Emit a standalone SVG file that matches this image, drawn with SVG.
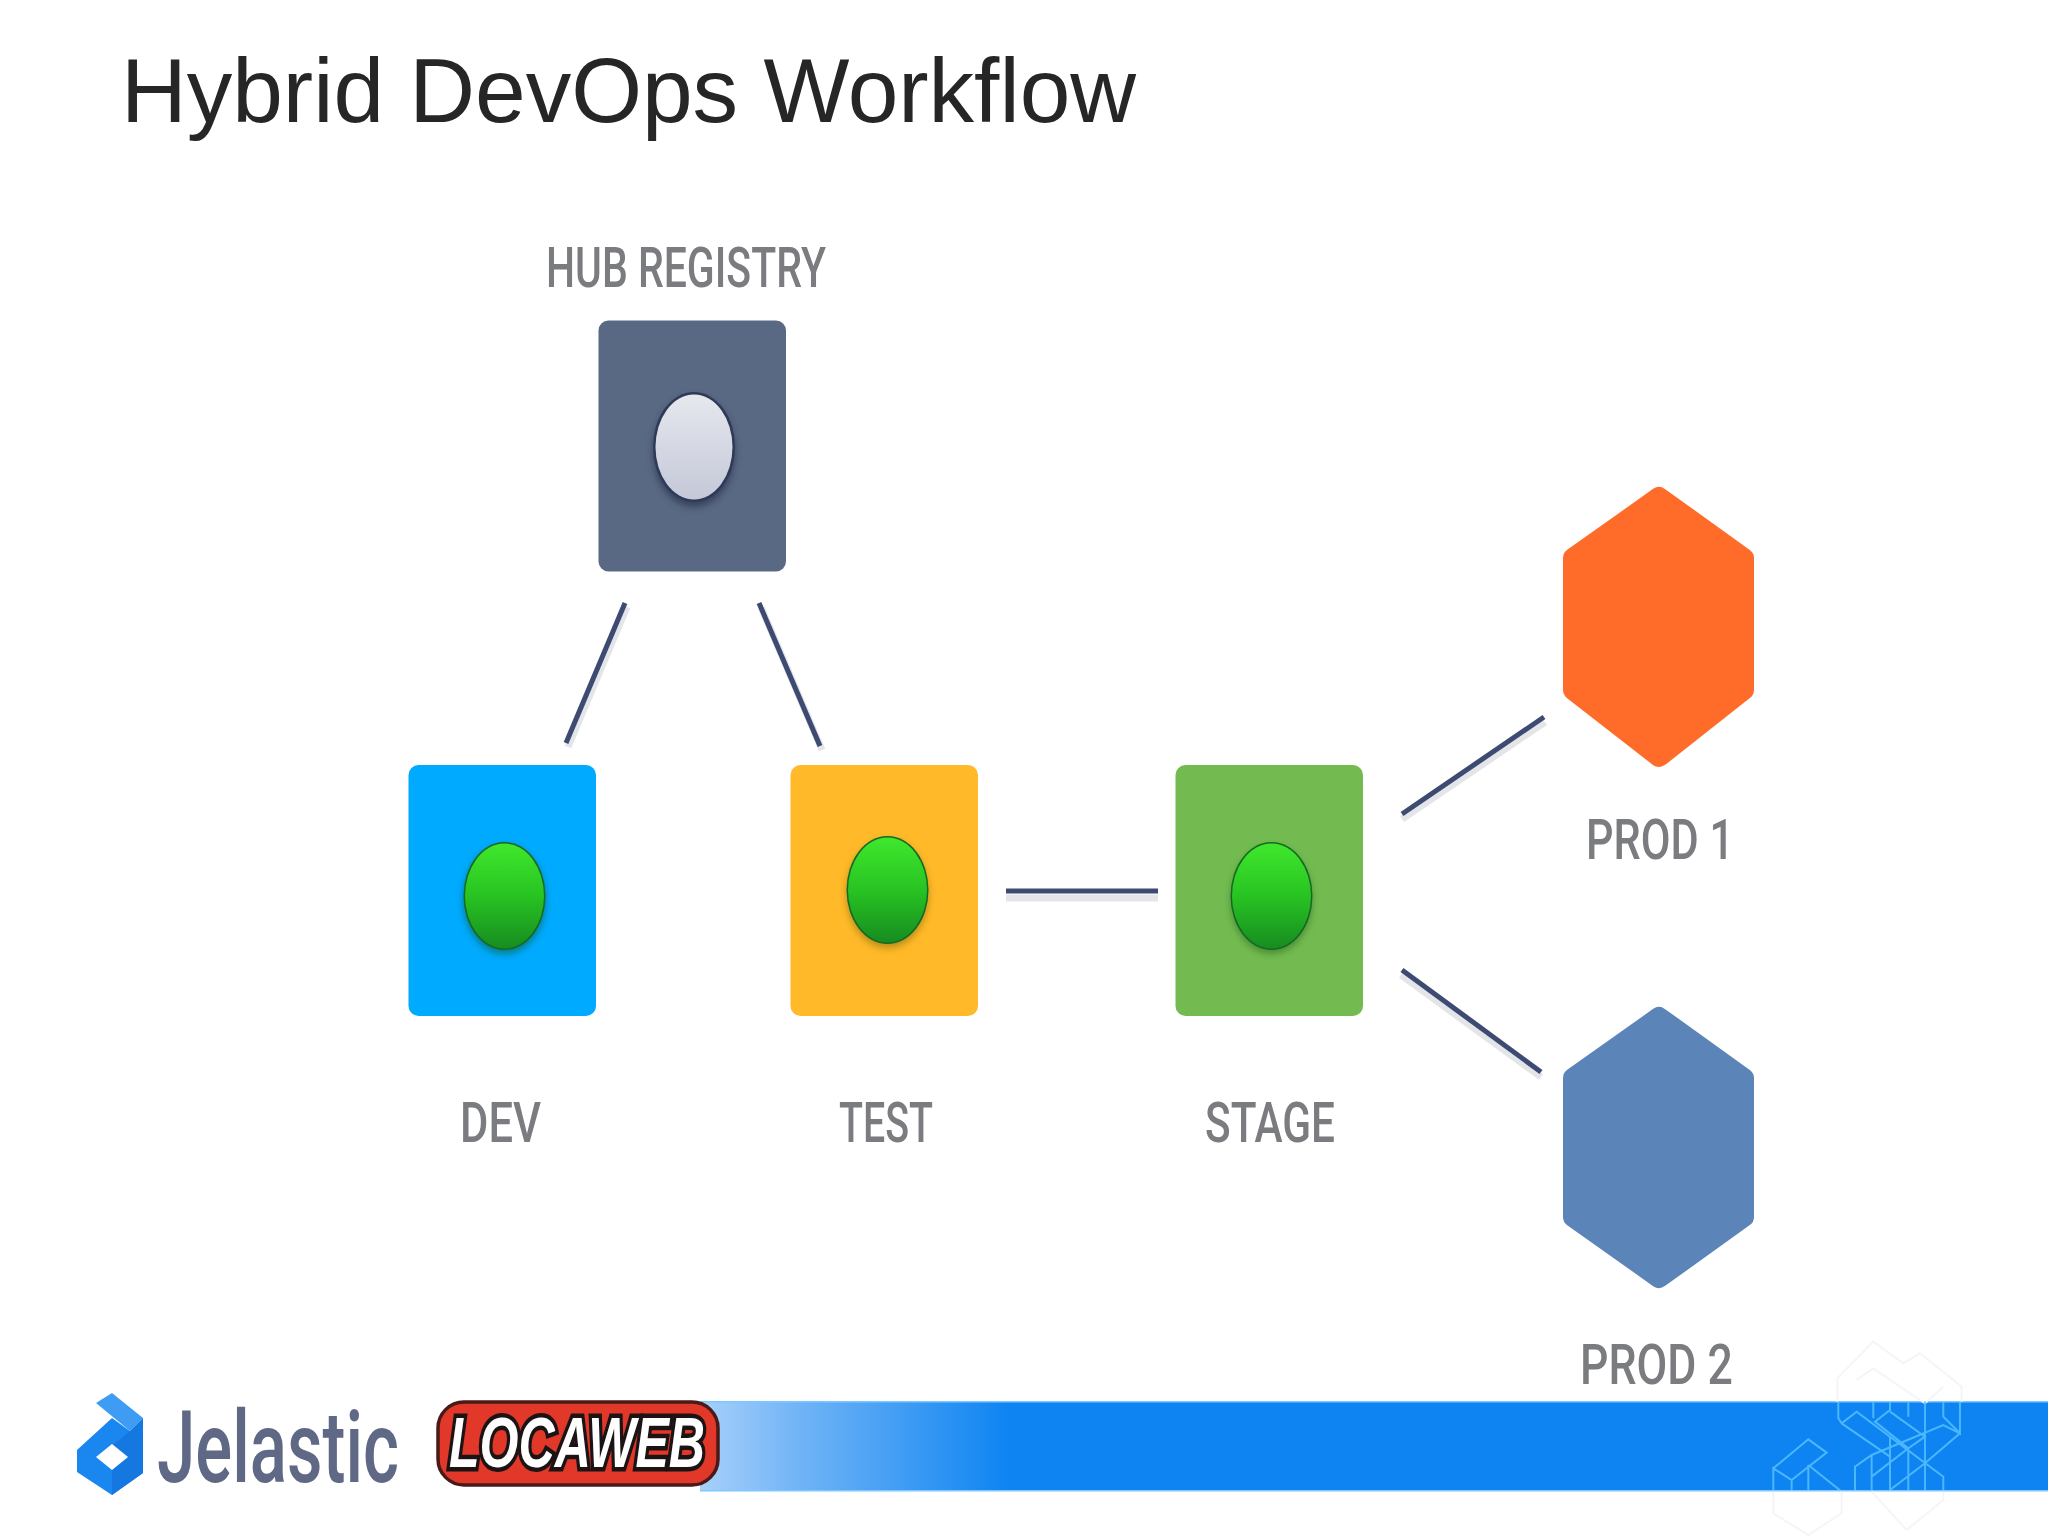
<svg xmlns="http://www.w3.org/2000/svg" width="2048" height="1536" viewBox="0 0 2048 1536">
<style>
.lbl{font-family:"Roboto","Liberation Sans",sans-serif;font-size:55px;font-weight:500;fill:#7a7b7f}
.c{stroke:#3d4a72;stroke-width:5;fill:none}
.cs{stroke:#c8ccd4;stroke-width:7;fill:none;opacity:.5}
.card{stroke:none}
.hex{stroke-width:20;stroke-linejoin:round}
.pat{fill:none;stroke:#52bcff;stroke-width:6;opacity:.9}
.pat2{fill:none;stroke:#f5f5f7;stroke-width:6}
</style>
<defs>
<linearGradient id="gd" x1="0" y1="0" x2="0" y2="1"><stop offset="0" stop-color="#3fe82c"/><stop offset=".5" stop-color="#28c322"/><stop offset="1" stop-color="#178c20"/></linearGradient>
<linearGradient id="wd" x1="0" y1="0" x2="0" y2="1"><stop offset="0" stop-color="#e6e8ee"/><stop offset="1" stop-color="#c4c8d8"/></linearGradient>
<linearGradient id="bar" gradientUnits="userSpaceOnUse" x1="700" y1="0" x2="1010" y2="0"><stop offset="0" stop-color="#a8d0fa"/><stop offset=".33" stop-color="#6fb3f6"/><stop offset="1" stop-color="#0d84f2"/></linearGradient>
<filter id="sh" x="-30%" y="-30%" width="160%" height="160%"><feGaussianBlur stdDeviation="3.500"/></filter>
<filter id="soft" x="-5%" y="-20%" width="110%" height="140%"><feGaussianBlur stdDeviation=".7"/></filter>
<clipPath id="inBar"><rect x="1600" y="1402" width="448" height="88"/></clipPath>
</defs>
<rect width="2048" height="1536" fill="#fff"/>
<text x="121" y="122" font-family="'Liberation Sans',Arial,sans-serif" font-size="90" fill="#262626" textLength="1015" lengthAdjust="spacingAndGlyphs">Hybrid DevOps Workflow</text>

<g id="banner">
<rect x="700" y="1402" width="1348" height="88" fill="url(#bar)"/>
<rect x="700" y="1401" width="1348" height="1.500" fill="#7cc8ff"/>
<rect x="700" y="1490" width="1348" height="1.500" fill="#7cc8ff"/>
<g transform="translate(1600 1300) scale(.3333)">
<path class="pat2" d="M712 305V235L820 125L910 190L960 160L1085 260V305M520 575V640L625 705L725 640V575M815 575L920 690L1030 600V575M770 240L820 205L900 260L975 310L1030 260"/>
</g>
<g clip-path="url(#inBar)"><g transform="translate(1600 1300) scale(.3333)">
<path class="pat" d="M715 300V355L725 370L770 335L1030 530V580M725 370L870 470M870 300V330L825 365L925 445L975 410L870 335M820 300V355M925 300V350M975 300V490M1030 300V350L1080 400V300M1080 400L1030 375L815 465L765 500V580M1080 400L975 490L870 570M815 465V580M870 410V580M925 445V580M975 490V580M815 530L925 445M520 505L625 418L680 458L575 540L520 505V580M575 540V580M625 495V580M625 495L725 575"/>
</g></g>
</g>

<g id="connectors">
<line class="cs" x1="627" y1="607" x2="568" y2="747"/>
<line class="cs" x1="761" y1="607" x2="822" y2="750"/>
<line class="cs" x1="1006" y1="898" x2="1158" y2="898"/>
<line class="cs" x1="1402" y1="819" x2="1545" y2="722"/>
<line class="cs" x1="1401" y1="975" x2="1541" y2="1077"/>
<line class="c" x1="625" y1="603" x2="566" y2="743"/>
<line class="c" x1="759" y1="603" x2="820" y2="746"/>
<line class="c" x1="1006" y1="891" x2="1158" y2="891"/>
<line class="c" x1="1402" y1="814" x2="1544" y2="717"/>
<line class="c" x1="1402" y1="970" x2="1541" y2="1072"/>
</g>

<g id="hub-registry">
<text class="lbl" x="546" y="287" textLength="280" lengthAdjust="spacingAndGlyphs" filter="url(#soft)">HUB REGISTRY</text>
<rect class="card" x="598.500" y="320.500" width="187.500" height="251" rx="10" fill="#5a6983"/>
<ellipse cx="694" cy="452" rx="41" ry="55" fill="#2a3550" opacity=".75" filter="url(#sh)"/>
<ellipse cx="694" cy="447" rx="41" ry="55" fill="#2e3a58"/>
<ellipse cx="694" cy="447" rx="38.500" ry="52.500" fill="url(#wd)"/>
</g>

<g id="dev">
<rect class="card" x="408.500" y="765" width="187.500" height="251" rx="10" fill="#00aaff"/>
<ellipse cx="504.500" cy="900" rx="41" ry="54" fill="#0a5a20" opacity=".55" filter="url(#sh)"/>
<ellipse cx="504.500" cy="896" rx="41" ry="54" fill="#156a22"/>
<ellipse cx="504.500" cy="896" rx="39.500" ry="52.500" fill="url(#gd)"/>
<text class="lbl" x="460" y="1142" textLength="81" lengthAdjust="spacingAndGlyphs" filter="url(#soft)">DEV</text>
</g>

<g id="test">
<rect class="card" x="790.500" y="765" width="187.500" height="251" rx="10" fill="#ffb929"/>
<ellipse cx="887.500" cy="894" rx="41" ry="54" fill="#7a6a10" opacity=".55" filter="url(#sh)"/>
<ellipse cx="887.500" cy="890" rx="41" ry="54" fill="#156a22"/>
<ellipse cx="887.500" cy="890" rx="39.500" ry="52.500" fill="url(#gd)"/>
<text class="lbl" x="839" y="1142" textLength="94" lengthAdjust="spacingAndGlyphs" filter="url(#soft)">TEST</text>
</g>

<g id="stage">
<rect class="card" x="1175.500" y="765" width="187.500" height="251" rx="10" fill="#73bb50"/>
<ellipse cx="1271.500" cy="900" rx="41" ry="54" fill="#2a6a20" opacity=".55" filter="url(#sh)"/>
<ellipse cx="1271.500" cy="896" rx="41" ry="54" fill="#156a22"/>
<ellipse cx="1271.500" cy="896" rx="39.500" ry="52.500" fill="url(#gd)"/>
<text class="lbl" x="1205" y="1142" textLength="130" lengthAdjust="spacingAndGlyphs" filter="url(#soft)">STAGE</text>
</g>

<g id="prod1">
<polygon class="hex" points="1659,497 1744,558 1744,690 1659,757 1573,690 1573,558" fill="#ff6b28" stroke="#ff6b28"/>
<text class="lbl" x="1586" y="859" textLength="148" lengthAdjust="spacingAndGlyphs" filter="url(#soft)">PROD 1</text>
</g>

<g id="prod2">
<polygon class="hex" points="1659,1017 1744,1078 1744,1217 1659,1278 1573,1217 1573,1078" fill="#5b84b8" stroke="#5b84b8"/>
<text class="lbl" x="1580" y="1384" textLength="153" lengthAdjust="spacingAndGlyphs" filter="url(#soft)">PROD 2</text>
</g>

<g id="jelastic">
<path d="M77 1450L112 1418L130 1431L143 1418V1473L112 1495L77 1472Z" fill="#1a86f0"/>
<path d="M130 1431L143 1418V1473L112 1495V1470L127 1457L112 1446Z" fill="#1478e0"/>
<path d="M112 1393L143 1418L130 1431L96 1403Z" fill="#3f9cf5"/>
<path d="M112 1444L128 1457L112 1470L96 1457Z" fill="#fff"/>
<text transform="translate(157 1482) scale(.69 1)" x="0" y="0" font-family="Roboto,'Liberation Sans',sans-serif" font-weight="500" font-size="100" fill="#5e6884" filter="url(#soft)">Jelastic</text>
</g>

<g id="locaweb">
<rect x="438" y="1402" width="280" height="83" rx="26" fill="#e2382a" stroke="#4a1a18" stroke-width="3.500"/>
<text x="449" y="1467" font-family="'Liberation Sans',sans-serif" font-weight="700" font-style="italic" font-size="70" fill="#fff" stroke="#1c1414" stroke-width="9" paint-order="stroke" textLength="256" lengthAdjust="spacingAndGlyphs">LOCAWEB</text>
</g>
</svg>
